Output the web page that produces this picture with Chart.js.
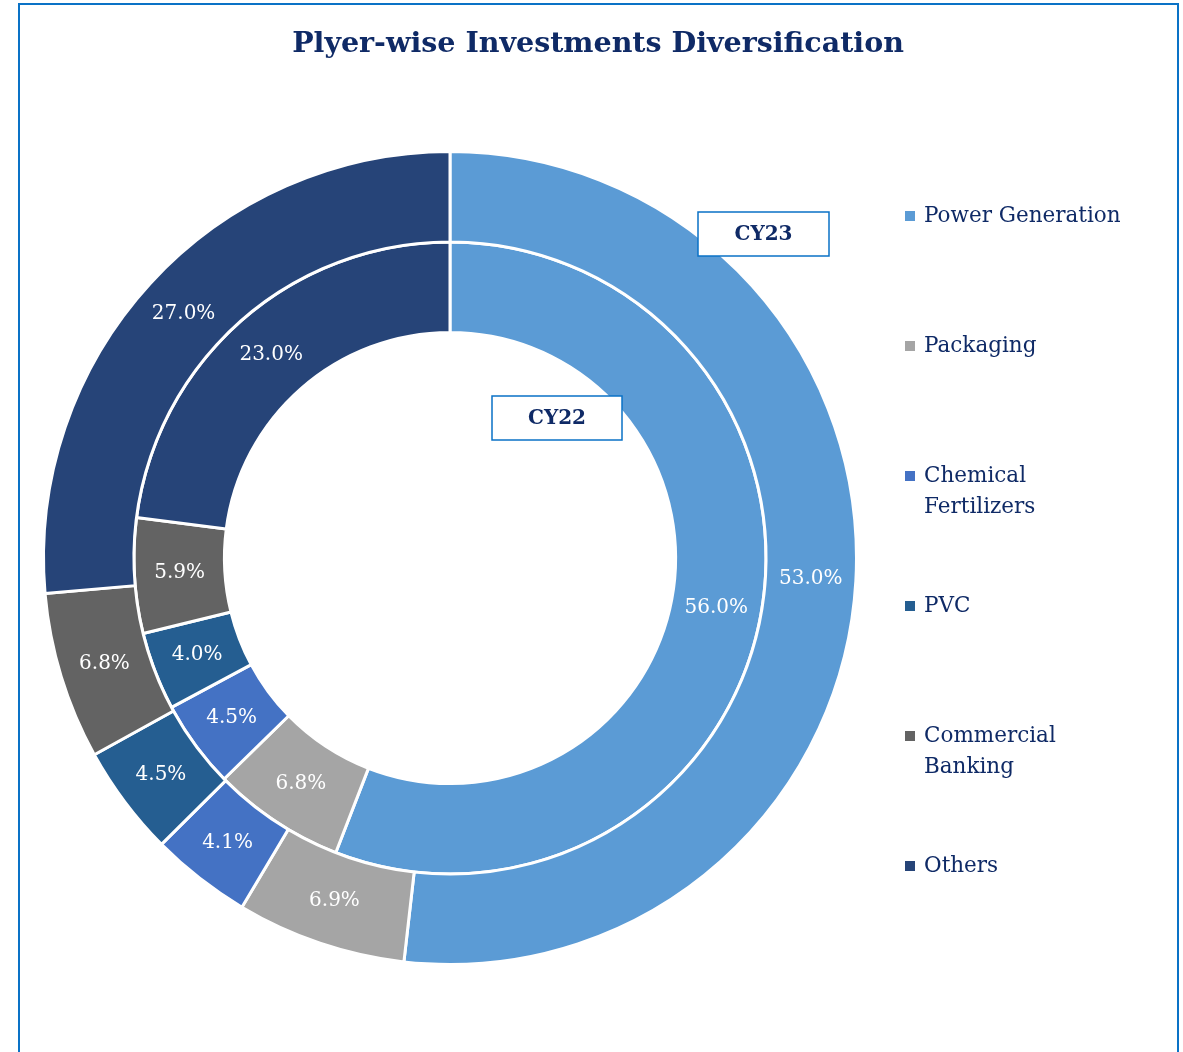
<!DOCTYPE html>
<html>
<head>
<meta charset="utf-8">
<script src="https://cdn.jsdelivr.net/npm/chart.js@4.4.1/dist/chart.umd.min.js"></script>
<style>
  html, body { margin: 0; padding: 0; background: #fff; }
  #frame {
    position: absolute; left: 18px; top: 3px; width: 1161px; height: 1100px;
    border: 2px solid #0A72C6; box-sizing: border-box;
  }
  #wrap { position: absolute; left: 0; top: 0; width: 1183px; height: 1052px; }
</style>
</head>
<body>
<div id="frame"></div>
<div id="wrap"><canvas id="chart" width="1183" height="1052"></canvas></div>
<script>
// Chart data
const categories = ['Power Generation', 'Packaging', 'Chemical Fertilizers', 'PVC', 'Commercial Banking', 'Others'];
const legendLines = [['Power Generation'], ['Packaging'], ['Chemical', 'Fertilizers'], ['PVC'], ['Commercial', 'Banking'], ['Others']];
const cy23 = [53.0, 6.9, 4.1, 4.5, 6.8, 27.0];
const cy22 = [56.0, 6.8, 4.5, 4.0, 5.9, 23.0];
const colors = ['#5B9BD5', '#A5A5A5', '#4472C4', '#255E91', '#636363', '#264478'];

const navy = '#0F2A66';
const serif = '"DejaVu Serif", "Liberation Serif", serif';

// Draws title, legend, value labels and the CY boxes
const decorPlugin = {
    id: 'decor',
    afterDraw(chart) {
        const ctx = chart.ctx;
        ctx.save();

        // Title
        ctx.fillStyle = navy;
        ctx.font = 'bold 28.5px ' + serif;
        ctx.textAlign = 'center';
        ctx.textBaseline = 'middle';
        ctx.fillText('Plyer-wise Investments Diversification', 598, 45);

        // Value labels on the arcs
        ctx.font = '20px ' + serif;
        ctx.fillStyle = '#ffffff';
        chart.data.datasets.forEach((ds, di) => {
            const meta = chart.getDatasetMeta(di);
            meta.data.forEach((arc, i) => {
                const p = arc.tooltipPosition();
                ctx.fillText(ds.data[i].toFixed(1) + '%', p.x, p.y);
            });
        });

        // Legend
        ctx.textAlign = 'left';
        ctx.font = '21.5px ' + serif;
        legendLines.forEach((lines, i) => {
            const y = 216 + i * 130;
            ctx.fillStyle = colors[i];
            ctx.fillRect(905, y - 5, 10, 10);
            ctx.fillStyle = navy;
            lines.forEach((t, j) => ctx.fillText(t, 924, y + j * 31));
        });

        // Series boxes
        const boxes = [
            { text: 'CY23', x: 698, y: 212, w: 131, h: 44 },
            { text: 'CY22', x: 492, y: 396, w: 130, h: 44 }
        ];
        ctx.font = 'bold 20px ' + serif;
        ctx.textAlign = 'center';
        boxes.forEach(b => {
            ctx.fillStyle = '#ffffff';
            ctx.fillRect(b.x, b.y, b.w, b.h);
            ctx.strokeStyle = '#0A72C6';
            ctx.lineWidth = 1.5;
            ctx.strokeRect(b.x, b.y, b.w, b.h);
            ctx.fillStyle = navy;
            ctx.fillText(b.text, b.x + b.w / 2, b.y + b.h / 2 + 1);
        });

        ctx.restore();
    }
};

new Chart(document.getElementById('chart'), {
    type: 'doughnut',
    data: {
        labels: categories,
        datasets: [
            { label: 'CY23', data: cy23, backgroundColor: colors, borderColor: '#ffffff', borderWidth: 3 },
            { label: 'CY22', data: cy22, backgroundColor: colors, borderColor: '#ffffff', borderWidth: 3 }
        ]
    },
    options: {
        responsive: false,
        animation: false,
        cutout: '55.5%',
        layout: { padding: { left: 42, right: 325, top: 150, bottom: 86 } },
        plugins: {
            legend: { display: false },
            title: { display: false },
            tooltip: { enabled: false }
        }
    },
    plugins: [decorPlugin]
});
</script>
</body>
</html>
